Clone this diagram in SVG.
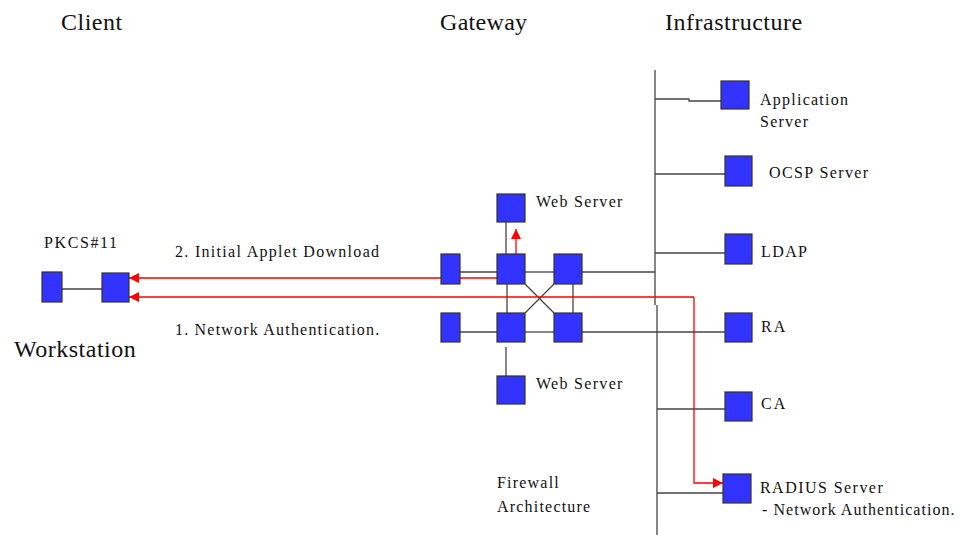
<svg xmlns="http://www.w3.org/2000/svg" width="960" height="535" viewBox="0 0 960 535">
<defs>
<marker id="ah" viewBox="0 0 10 10" refX="10" refY="5" markerWidth="10" markerHeight="10" markerUnits="userSpaceOnUse" orient="auto">
<path d="M0,0 L10,5 L0,10 z" fill="#ff0000"/>
</marker>
</defs>
<rect width="960" height="535" fill="#fff"/>
<g id="titles" fill="#111">
<text x="61" y="30" font-family="Liberation Serif, serif" font-size="24" letter-spacing="0.5">Client</text>
<text x="440" y="30" font-family="Liberation Serif, serif" font-size="24" letter-spacing="0.3">Gateway</text>
<text x="665" y="30" font-family="Liberation Serif, serif" font-size="24" letter-spacing="0.5">Infrastructure</text>
<text x="14" y="357" font-family="Liberation Serif, serif" font-size="24" letter-spacing="0.5">Workstation</text>
<text x="44" y="248" font-family="Liberation Serif, serif" font-size="16" letter-spacing="1.6">PKCS#11</text>
<text x="175" y="257" font-family="Liberation Serif, serif" font-size="16" letter-spacing="1.3">2. Initial Applet Download</text>
<text x="175" y="335" font-family="Liberation Serif, serif" font-size="16" letter-spacing="1.2">1. Network Authentication.</text>
<text x="497" y="488" font-family="Liberation Serif, serif" font-size="16" letter-spacing="1.2">Firewall</text>
<text x="497" y="512" font-family="Liberation Serif, serif" font-size="16" letter-spacing="1.2">Architecture</text>
</g>
<g id="connectors" fill="none">
<g stroke="#444" stroke-width="1.3">
<line x1="62" y1="289" x2="102" y2="289"/>
<line x1="655" y1="70" x2="655" y2="305"/>
<line x1="657" y1="305" x2="657" y2="535"/>
<line x1="506" y1="222" x2="506" y2="254"/>
<line x1="506" y1="347" x2="506" y2="376"/>
<line x1="459" y1="272" x2="497" y2="272"/>
<line x1="525" y1="272" x2="554" y2="272"/>
<line x1="582" y1="272" x2="655" y2="272"/>
<line x1="459" y1="332" x2="497" y2="332"/>
<line x1="525" y1="332" x2="554" y2="332"/>
<line x1="582" y1="332" x2="725" y2="332"/>
<line x1="507" y1="284" x2="507" y2="313"/>
<line x1="573" y1="284" x2="573" y2="313"/>
<line x1="525" y1="284" x2="554" y2="313"/>
<line x1="554" y1="284" x2="525" y2="313"/>
<polyline points="655,99 689,99 689,101 721,101"/>
<line x1="655" y1="174" x2="725" y2="174"/>
<line x1="655" y1="253" x2="725" y2="253"/>
<line x1="657" y1="409" x2="725" y2="409"/>
<line x1="657" y1="493" x2="723" y2="493"/>
</g>
<g stroke="#ff0000" stroke-width="1.3">
<polyline points="516,278 516,229" marker-end="url(#ah)"/>
<polyline points="516,278 129,278" marker-end="url(#ah)"/>
<polyline points="694,297 129,297" marker-end="url(#ah)"/>
<polyline points="694,297 694,483 723,483" marker-end="url(#ah)"/>
</g>
</g>
<g id="nodes" fill="#3333ff" stroke="#333" stroke-width="1.2">
<g id="pkcs11"><rect x="42" y="272" width="20" height="30"/></g>
<g id="workstation"><rect x="102" y="273" width="27" height="29"/></g>
<g id="webserver-top"><rect x="497" y="194" width="28" height="28"/><text x="536" y="207" fill="#111" stroke="none" font-family="Liberation Serif, serif" font-size="16" letter-spacing="1.3">Web Server</text></g>
<g id="gw-r1-left"><rect x="441" y="254" width="19" height="30"/></g>
<g id="gw-r1-mid"><rect x="497" y="254" width="28" height="30"/></g>
<g id="gw-r1-right"><rect x="554" y="254" width="28" height="30"/></g>
<g id="gw-r2-left"><rect x="441" y="313" width="19" height="29"/></g>
<g id="gw-r2-mid"><rect x="497" y="313" width="28" height="29"/></g>
<g id="gw-r2-right"><rect x="554" y="313" width="28" height="29"/></g>
<g id="webserver-bottom"><rect x="497" y="376" width="28" height="28"/><text x="536" y="389" fill="#111" stroke="none" font-family="Liberation Serif, serif" font-size="16" letter-spacing="1.3">Web Server</text></g>
<g id="app-server"><rect x="721" y="81" width="28" height="28"/><text x="760" y="105" fill="#111" stroke="none" font-family="Liberation Serif, serif" font-size="16" letter-spacing="1.24">Application</text><text x="760" y="127" fill="#111" stroke="none" font-family="Liberation Serif, serif" font-size="16" letter-spacing="1.24">Server</text></g>
<g id="ocsp"><rect x="725" y="156" width="27" height="30"/><text x="769" y="178" fill="#111" stroke="none" font-family="Liberation Serif, serif" font-size="16" letter-spacing="1.4">OCSP Server</text></g>
<g id="ldap"><rect x="725" y="234" width="27" height="30"/><text x="761" y="257" fill="#111" stroke="none" font-family="Liberation Serif, serif" font-size="16" letter-spacing="1.4">LDAP</text></g>
<g id="ra"><rect x="725" y="313" width="27" height="29"/><text x="761" y="332" fill="#111" stroke="none" font-family="Liberation Serif, serif" font-size="16" letter-spacing="2">RA</text></g>
<g id="ca"><rect x="725" y="392" width="27" height="29"/><text x="761" y="409" fill="#111" stroke="none" font-family="Liberation Serif, serif" font-size="16" letter-spacing="2">CA</text></g>
<g id="radius"><rect x="723" y="474" width="28" height="29"/><text x="760" y="493" fill="#111" stroke="none" font-family="Liberation Serif, serif" font-size="16" letter-spacing="1.45">RADIUS Server</text><text x="762" y="515" fill="#111" stroke="none" font-family="Liberation Serif, serif" font-size="16" letter-spacing="1.04">- Network Authentication.</text></g>
</g>
</svg>
